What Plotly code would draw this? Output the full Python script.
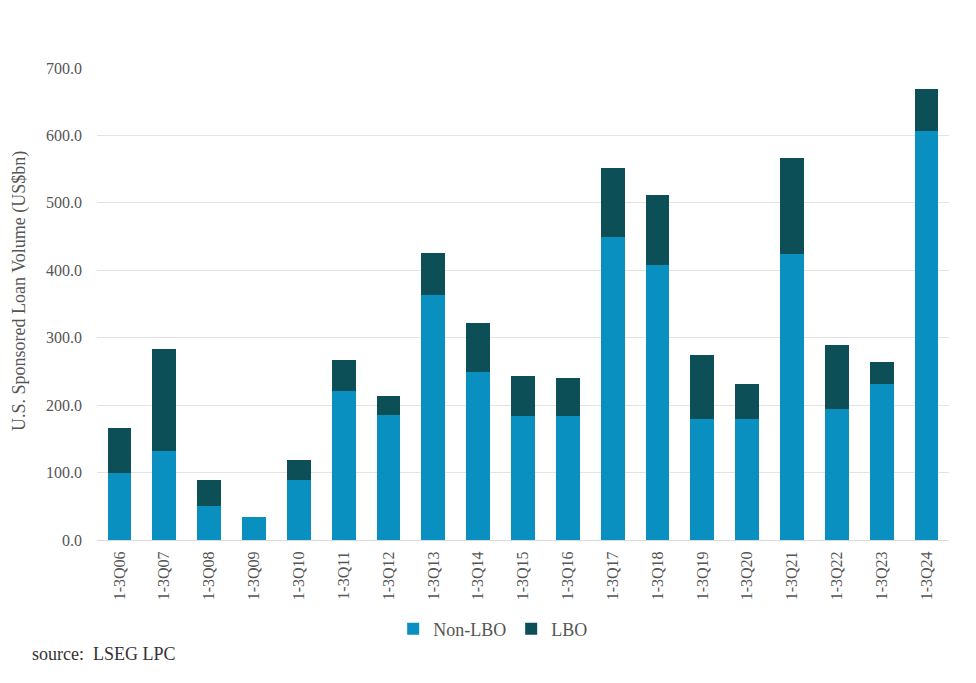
import plotly.graph_objects as go

categories = ["1-3Q06", "1-3Q07", "1-3Q08", "1-3Q09", "1-3Q10", "1-3Q11", "1-3Q12",
              "1-3Q13", "1-3Q14", "1-3Q15", "1-3Q16", "1-3Q17", "1-3Q18", "1-3Q19",
              "1-3Q20", "1-3Q21", "1-3Q22", "1-3Q23", "1-3Q24"]
non_lbo = [99, 132, 50, 34, 89, 221, 185, 363, 249, 184, 184, 449, 408, 179, 179, 424, 194, 231, 606]
lbo = [67, 151, 39, 0, 30, 46, 29, 63, 73, 59, 56, 103, 104, 95, 52, 142, 95, 33, 63]
y_ticks = [0, 100, 200, 300, 400, 500, 600, 700]
y_tick_text = ["0.0", "100.0", "200.0", "300.0", "400.0", "500.0", "600.0", "700.0"]

SERIF = "Georgia, 'Liberation Serif', 'DejaVu Serif', serif"

# page body has an 8px margin; compensate so the plot lands where the reference has it
W, H = 968, 675
L, T, R, B = 89, 60, 27, 143
PW, PH = W - L - R, H - T - B

fig = go.Figure()
fig.add_trace(go.Bar(x=categories, y=non_lbo, name="Non-LBO", marker_color="#0a8fc1",
                     marker_line_width=0))
fig.add_trace(go.Bar(x=categories, y=lbo, name="LBO", marker_color="#0c4f57",
                     marker_line_width=0))

fig.update_layout(
    width=W, height=H,
    barmode="stack", bargap=0.47,
    paper_bgcolor="white", plot_bgcolor="white",
    margin=dict(l=L, r=R, t=T, b=B),
    font=dict(family=SERIF, color="#555555"),
    showlegend=True,
    legend=dict(orientation="h", x=0.465, xanchor="center", y=-89 / PH, yanchor="middle",
                font=dict(size=18, color="#555555"), traceorder="normal",
                itemwidth=30, itemsizing="constant"),
    xaxis=dict(tickangle=-90, tickfont=dict(size=16, color="#555555"),
               showgrid=False, showline=True, linecolor="#d9d9d9", linewidth=1,
               ticks="", ticklabelstandoff=4),
    yaxis=dict(range=[0, 700], tickvals=y_ticks, ticktext=y_tick_text,
               tickfont=dict(size=16, color="#555555"),
               showgrid=True, gridcolor="#e3e3e3", gridwidth=1,
               zeroline=False, showline=False, ticks="", ticklabelstandoff=14),
    annotations=[
        dict(text="U.S. Sponsored Loan Volume (US$bn)", textangle=-90,
             xref="paper", yref="paper", x=(11 - L) / PW, y=(532 - 283) / PH,
             xanchor="center", yanchor="middle", showarrow=False,
             font=dict(size=18, color="#555555", family=SERIF)),
        dict(text="source:  LSEG LPC", xref="paper", yref="paper",
             x=(30 - 8 - L) / PW, y=-114 / PH, xanchor="left", yanchor="middle", showarrow=False,
             font=dict(size=18, color="#333333", family=SERIF)),
    ],
)

fig.write_html("out.html")
